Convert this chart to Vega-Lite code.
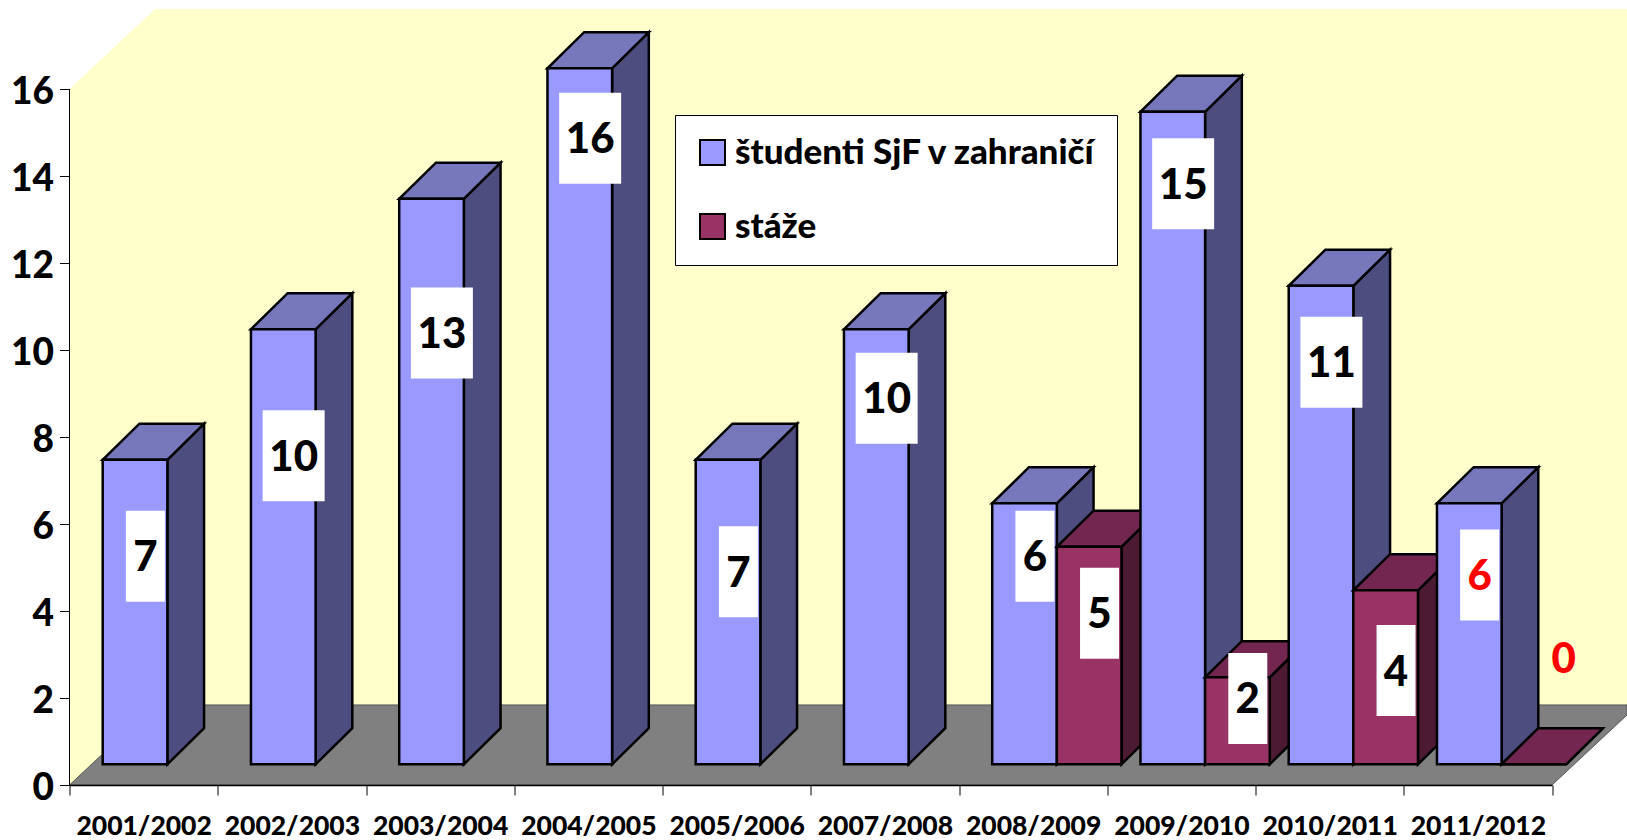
{
"$schema":"https://vega.github.io/schema/vega-lite/v6.json",
"width":1557.5,"height":785,"autosize":"none",
"padding":{"left":69.5,"top":0,"right":0,"bottom":55},
"background":"white",
"view":{"stroke":null},
"config":{"font":"Lato"},
"datasets":{
"bars":[
{"season":"2001/2002","series":"študenti SjF v zahraničí","value":7,"labelAt":5.26},
{"season":"2002/2003","series":"študenti SjF v zahraničí","value":10,"labelAt":7.57},
{"season":"2003/2004","series":"študenti SjF v zahraničí","value":13,"labelAt":10.39},
{"season":"2004/2005","series":"študenti SjF v zahraničí","value":16,"labelAt":14.87},
{"season":"2005/2006","series":"študenti SjF v zahraničí","value":7,"labelAt":4.9},
{"season":"2007/2008","series":"študenti SjF v zahraničí","value":10,"labelAt":8.89},
{"season":"2008/2009","series":"študenti SjF v zahraničí","value":6,"labelAt":5.26},
{"season":"2008/2009","series":"stáže","value":5,"labelAt":3.95},
{"season":"2009/2010","series":"študenti SjF v zahraničí","value":15,"labelAt":13.82},
{"season":"2009/2010","series":"stáže","value":2,"labelAt":1.99},
{"season":"2010/2011","series":"študenti SjF v zahraničí","value":11,"labelAt":9.72},
{"season":"2010/2011","series":"stáže","value":4,"labelAt":2.63},
{"season":"2011/2012","series":"študenti SjF v zahraničí","value":6,"labelAt":4.83},
{"season":"2011/2012","series":"stáže","value":0,"labelAt":2.92}
]},
"resolve":{"scale":{"x":"independent"}},
"layer":[
{"data":{"values":[{"along":0,"lo":0,"hi":16},{"along":0.577,"lo":1.84,"hi":17.84},{"along":10.506,"lo":1.84,"hi":17.84}]},
"mark":{"type":"area","fill":"#FFFFCC","orient":"vertical"},
"encoding":{
"x":{"field":"along","type":"quantitative","axis":null,"scale":{"domain":[0,10],"range":[0,1482.5],"nice":false,"zero":false}},
"y":{"field":"lo","type":"quantitative","title":null,"scale":{"domain":[0,18.046],"nice":false,"zero":false},
"axis":{"values":[0,2,4,6,8,10,12,14,16],"grid":false,"domain":false,"tickColor":"black","tickSize":10,"tickWidth":1,"labelColor":"black","labelFont":"Lato","labelFontWeight":900,"labelFontSize":37,"labelPadding":6,"labelOffset":3,"zindex":1,"labelOverlap":false,"labelBound":false,"labelFlush":false}},
"y2":{"field":"hi"}}},
{"data":{"values":[{"along":0,"lo":0,"hi":0},{"along":0.577,"lo":0,"hi":1.84},{"along":10,"lo":0,"hi":1.84},{"along":10.506,"lo":1.61,"hi":1.84}]},
"mark":{"type":"area","fill":"#808080","stroke":"#555555","strokeWidth":1,"orient":"vertical"},
"encoding":{
"x":{"field":"along","type":"quantitative","axis":null,"scale":{"domain":[0,10],"range":[0,1482.5],"nice":false,"zero":false}},
"y":{"field":"lo","type":"quantitative"},
"y2":{"field":"hi"}}},
{"data":{"values":[{}]},
"mark":{"type":"rule","color":"black","strokeWidth":1},
"encoding":{
"x":{"datum":0,"type":"quantitative","axis":null,"scale":{"domain":[0,10],"range":[0,1482.5],"nice":false,"zero":false}},
"y":{"datum":0,"type":"quantitative"},
"y2":{"datum":16}}},
{"data":{"name":"bars"},
"mark":{"type":"rule","opacity":0},
"encoding":{
"x":{"field":"season","type":"nominal","title":null,"scale":{"type":"band","range":[0,1482.5],"paddingInner":0,"paddingOuter":0},
"axis":{"tickBand":"extent","labelAngle":0,"domainColor":"black","domainWidth":1.5,"tickColor":"black","tickSize":10,"tickWidth":1,"labelColor":"black","labelFont":"Lato","labelFontWeight":900,"labelFontSize":26.5,"labelPadding":18,"zindex":1,"labelOverlap":false,"labelBound":false}}}},
{"data":{"name":"bars"},
"transform":[
{"window":[{"op":"dense_rank","as":"rank"}],"sort":[{"field":"season"}]},
{"calculate":"datum.rank-1+(datum.series==='stáže'?0.66:0.224)","as":"left"},
{"calculate":"['side','top','front']","as":"faces"},
{"flatten":["faces"],"as":["face"]},
{"calculate":"datum.face==='top'?[0,1,2,3]:[0,1]","as":"pts"},
{"flatten":["pts"],"as":["p"]},
{"calculate":"0.476+datum.value","as":"T"},
{"calculate":"datum.face==='front'?datum.left+datum.p*0.436:datum.face==='side'?datum.left+0.436+datum.p*0.2476:[datum.left,datum.left+0.2476,datum.left+0.436,datum.left+0.436+0.2476][datum.p]","as":"px"},
{"calculate":"datum.face==='front'?0.476:datum.face==='side'?0.476+datum.p*0.83:[datum.T,datum.T,datum.T,datum.T+0.83][datum.p]","as":"lo"},
{"calculate":"datum.face==='front'?datum.T:datum.face==='side'?datum.T+datum.p*0.83:[datum.T,datum.T+0.83,datum.T+0.83,datum.T+0.83][datum.p]","as":"hi"},
{"calculate":"datum.face==='front'?datum.series:datum.series+' '+datum.face","as":"shade"},
{"calculate":"datum.season+datum.series+datum.face","as":"faceId"}
],
"mark":{"type":"area","stroke":"black","strokeWidth":2.5,"strokeJoin":"miter","orient":"vertical","opacity":1},
"encoding":{
"x":{"field":"px","type":"quantitative","axis":null,"scale":{"domain":[0,10],"range":[0,1482.5],"nice":false,"zero":false}},
"y":{"field":"lo","type":"quantitative"},
"y2":{"field":"hi"},
"detail":{"field":"faceId"},
"color":{"field":"shade","type":"nominal",
"scale":{"domain":["študenti SjF v zahraničí","študenti SjF v zahraničí side","študenti SjF v zahraničí top","stáže","stáže side","stáže top"],
"range":["#9999FF","#4D4D80","#7777BB","#993366","#4D1A33","#732650"]},
"legend":{"title":null,"values":["študenti SjF v zahraničí","stáže"],"orient":"none","legendX":605.5,"legendY":115,
"fillColor":"white","strokeColor":"black","padding":20,"symbolType":"square","symbolSize":625,"symbolStrokeColor":"black","symbolStrokeWidth":2,"symbolFillColor":null,
"labelFont":"Lato","labelFontWeight":900,"labelFontSize":35,"labelColor":"black","labelLimit":500,"labelOffset":5,"rowPadding":38,"offset":0}}}},
{"data":{"name":"bars"},
"transform":[
{"window":[{"op":"dense_rank","as":"rank"}],"sort":[{"field":"season"}]},
{"filter":"datum.value>0"},
{"calculate":"datum.rank-1+(datum.series==='stáže'?0.66:0.224)+0.218+0.07","as":"cx"},
{"calculate":"datum.value>=10?0.209:0.1315","as":"hw"},
{"calculate":"datum.cx-datum.hw","as":"bx"},
{"calculate":"datum.cx+datum.hw","as":"bx2"},
{"calculate":"datum.labelAt-1.046","as":"by"},
{"calculate":"datum.labelAt+1.046","as":"by2"}
],
"mark":{"type":"rect","fill":"white"},
"encoding":{
"x":{"field":"bx","type":"quantitative","axis":null,"scale":{"domain":[0,10],"range":[0,1482.5],"nice":false,"zero":false}},
"x2":{"field":"bx2"},
"y":{"field":"by","type":"quantitative"},
"y2":{"field":"by2"}}},
{"data":{"name":"bars"},
"transform":[
{"window":[{"op":"dense_rank","as":"rank"}],"sort":[{"field":"season"}]},
{"calculate":"datum.rank-1+(datum.series==='stáže'?0.66:0.224)+0.218+(datum.value===0?0.2:0.07)","as":"cx"}
],
"mark":{"type":"text","font":"Lato","fontWeight":900,"fontSize":42,"align":"center","baseline":"middle","dy":2},
"encoding":{
"x":{"field":"cx","type":"quantitative","axis":null,"scale":{"domain":[0,10],"range":[0,1482.5],"nice":false,"zero":false}},
"y":{"field":"labelAt","type":"quantitative"},
"text":{"field":"value","type":"quantitative"},
"color":{"condition":{"test":"datum.season==='2011/2012'","value":"#FF0000"},"value":"black"}}}
]
}
